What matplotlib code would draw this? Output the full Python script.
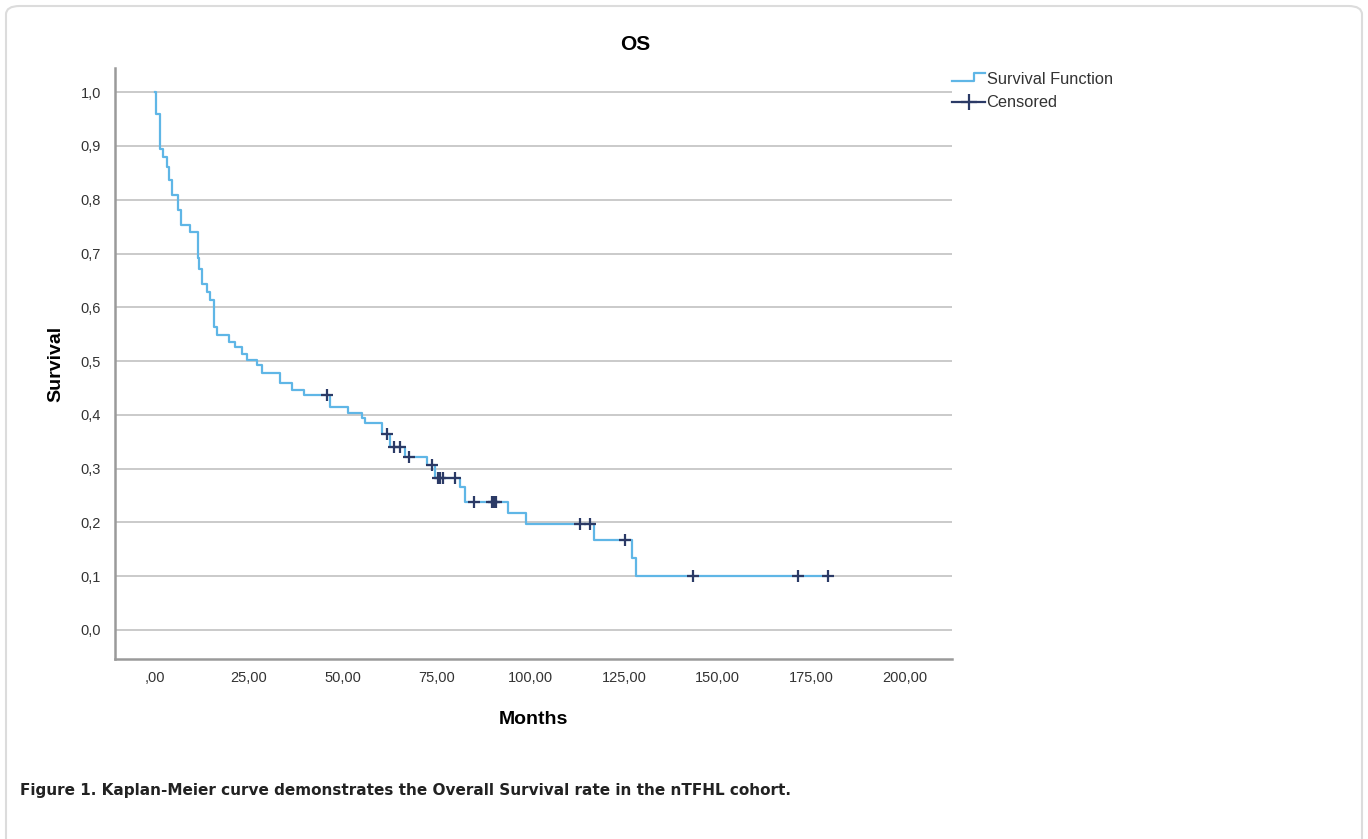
import numpy as np
import matplotlib.pyplot as plt
from matplotlib.lines import Line2D
from matplotlib.patches import FancyBboxPatch
from matplotlib.legend_handler import HandlerBase

# Kaplan-Meier steps (months, survival after the drop)
event_times = [0.3, 1.2, 2.2, 3.1, 3.8, 4.4, 6.2, 6.8, 9.3, 11.3, 11.8, 12.4,
               13.8, 14.7, 15.6, 16.4, 19.6, 21.3, 23.1, 24.4, 27.1, 28.4,
               33.3, 36.4, 39.6, 46.7, 51.3, 55.1, 56.0, 60.5, 62.7, 66.7,
               72.4, 74.7, 81.3, 82.7, 94.2, 98.9, 116.9, 127.2, 128.1]
surv = [0.960, 0.895, 0.880, 0.861, 0.836, 0.808, 0.781, 0.753, 0.740, 0.691,
        0.672, 0.644, 0.629, 0.613, 0.564, 0.548, 0.536, 0.527, 0.514, 0.502,
        0.493, 0.477, 0.459, 0.446, 0.437, 0.415, 0.403, 0.394, 0.384, 0.364,
        0.341, 0.322, 0.307, 0.282, 0.266, 0.238, 0.218, 0.197, 0.167, 0.133,
        0.100]
censor_times = [45.8, 61.8, 63.6, 65.3, 67.6, 73.9, 75.3, 76.0, 76.8, 80.0,
                84.9, 89.8, 90.4, 91.0, 113.2, 116.0, 125.3, 143.4, 171.5, 179.5]

x_ticks = [0, 25, 50, 75, 100, 125, 150, 175, 200]
x_labels = [',00', '25,00', '50,00', '75,00', '100,00', '125,00', '150,00', '175,00', '200,00']
y_ticks = [0.0, 0.1, 0.2, 0.3, 0.4, 0.5, 0.6, 0.7, 0.8, 0.9, 1.0]
y_labels = ['0,0', '0,1', '0,2', '0,3', '0,4', '0,5', '0,6', '0,7', '0,8', '0,9', '1,0']

plt.rcParams['font.family'] = ['Liberation Sans', 'DejaVu Sans']

curve_color = '#5fb6e6'
mark_color = '#2b3a66'


class StepHandler(HandlerBase):
    # little step glyph like the SPSS legend
    def create_artists(self, legend, orig_handle, xdescent, ydescent,
                       width, height, fontsize, trans):
        x0 = -xdescent
        px = [x0, x0 + 0.68 * width, x0 + 0.68 * width, x0 + width]
        py = [0.25 * height, 0.25 * height, 0.95 * height, 0.95 * height]
        ln = Line2D(px, py, color=orig_handle.get_color(), lw=orig_handle.get_linewidth())
        ln.set_transform(trans)
        return [ln]


fig = plt.figure(figsize=(13.68, 8.39), dpi=100)

# rounded frame around the figure
frame = FancyBboxPatch((6 / 1368, -0.05), 1356 / 1368, 0.05 + 833 / 839,
                       boxstyle='round,pad=0,rounding_size=0.01',
                       transform=fig.transFigure, facecolor='none',
                       edgecolor='#dcdcdc', linewidth=1.5)
fig.patches.append(frame)

ax = fig.add_axes([115 / 1368, 1 - 659 / 839, (952 - 115) / 1368, (659 - 68) / 839])

# step curve
xs = np.concatenate([[0], event_times, [censor_times[-1]]])
ys = np.concatenate([[1.0], surv, [surv[-1]]])
ax.step(xs, ys, where='post', color=curve_color, lw=1.6, zorder=3)

# censored marks sit on the curve
idx = np.searchsorted(xs, censor_times, side='right') - 1
censor_y = ys[idx]
ax.plot(censor_times, censor_y, ls='none', marker='+', ms=9, mew=1.6,
        color=mark_color, zorder=4)

ax.set_xlim(-10.7, 212.5)
ax.set_ylim(-0.054, 1.045)
ax.set_xticks(x_ticks)
ax.set_xticklabels(x_labels)
ax.set_yticks(y_ticks)
ax.set_yticklabels(y_labels)
ax.tick_params(length=0, labelsize=10.5, colors='#333333')
ax.tick_params(axis='x', pad=9)
ax.tick_params(axis='y', pad=10)

ax.grid(axis='y', color='#c6c6c6', lw=1.3)
ax.set_axisbelow(True)
for s in ['top', 'right']:
    ax.spines[s].set_visible(False)
for s in ['left', 'bottom']:
    ax.spines[s].set_color('#9a9a9a')
    ax.spines[s].set_linewidth(1.8)

ax.set_xlabel('Months', fontsize=14, fontweight='bold', labelpad=18)
ax.set_ylabel('Survival', fontsize=14, fontweight='bold', labelpad=12)
fig.text(635 / 1368, 1 - 45 / 839, 'OS', fontsize=15, fontweight='bold',
         ha='center', va='center')

handles = [Line2D([], [], color=curve_color, lw=1.6),
           Line2D([], [], color=mark_color, lw=1.6, marker='+', ms=11, mew=1.6)]
fig.legend(handles, ['Survival Function', 'Censored'], loc='upper left',
           bbox_to_anchor=(944 / 1368, 1 - 64 / 839), frameon=False,
           fontsize=11.8, handlelength=2.0, handletextpad=0.1, labelspacing=0.5,
           borderpad=0, labelcolor='#333333',
           handler_map={handles[0]: StepHandler()})

fig.text(20 / 1368, 1 - 791 / 839,
         'Figure 1. Kaplan-Meier curve demonstrates the Overall Survival rate in the nTFHL cohort.',
         fontsize=11.0, fontweight='bold', family=['DejaVu Sans'], color='#222222',
         ha='left', va='center')

fig.savefig('out.png', dpi=100)
